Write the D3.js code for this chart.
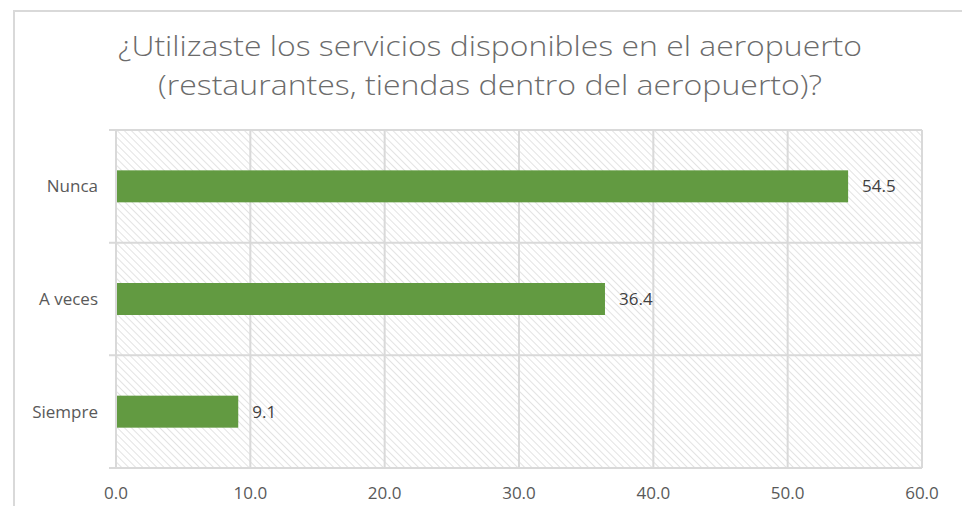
<!DOCTYPE html>
<html>
<head>
<meta charset="utf-8">
<script src="https://cdn.jsdelivr.net/npm/d3@7"></script>
<style>
  html, body { margin: 0; padding: 0; background: #ffffff; }
  svg { display: block; }
</style>
</head>
<body>
<svg id="chart" width="962" height="506"></svg>
<script>
// Survey answers and their percentages
const categories = ["Nunca", "A veces", "Siempre"];
const values = [54.5, 36.4, 9.1];
const xTicks = [0, 10, 20, 30, 40, 50, 60];
const titleLines = [
  "¿Utilizaste los servicios disponibles en el aeropuerto",
  "(restaurantes, tiendas dentro del aeropuerto)?"
];

const svg = d3.select("#chart");
const W = 962, H = 506;
const plot = { left: 116, right: 922, top: 130, bottom: 468 };

const gridColor = "#d9d9d9";
const barColor = "#629a41";
const fontFamily = "'Open Sans', 'DejaVu Sans', sans-serif";

// diagonal hatch fill for the plot area (lines running top-left to bottom-right)
const defs = svg.append("defs");
const pat = defs.append("pattern")
  .attr("id", "hatch")
  .attr("patternUnits", "userSpaceOnUse")
  .attr("width", 5).attr("height", 5)
  .attr("patternTransform", "rotate(-45)");
pat.append("rect").attr("width", 5).attr("height", 5).attr("fill", "#ffffff");
pat.append("line")
  .attr("x1", 0).attr("y1", 0).attr("x2", 0).attr("y2", 5)
  .attr("stroke", "#dcdcdc").attr("stroke-width", 1.6);

// outer chart frame
svg.append("rect")
  .attr("x", 14).attr("y", 11)
  .attr("width", W + 10).attr("height", H + 10)
  .attr("fill", "none")
  .attr("stroke", gridColor).attr("stroke-width", 2);

// title
const title = svg.append("g").attr("fill", "#6b6b6b")
  .attr("font-family", "'Open Sans', sans-serif")
  .attr("font-weight", 300)
  .attr("font-size", 28).attr("text-anchor", "middle");
const titleWidths = [744, 664];
const titleBase = [56, 95];
titleLines.forEach((t, i) => {
  title.append("text")
    .attr("x", 490).attr("y", titleBase[i])
    .attr("textLength", titleWidths[i])
    .attr("lengthAdjust", "spacingAndGlyphs")
    .text(t);
});

const x = d3.scaleLinear().domain([0, 60]).range([plot.left, plot.right]);
const y = d3.scaleBand().domain(categories).range([plot.top, plot.bottom]).paddingInner(0).paddingOuter(0);

// plot background
svg.append("rect")
  .attr("x", plot.left).attr("y", plot.top)
  .attr("width", plot.right - plot.left).attr("height", plot.bottom - plot.top)
  .attr("fill", "url(#hatch)");

// vertical gridlines
svg.append("g")
  .selectAll("line").data(xTicks).join("line")
  .attr("x1", d => x(d)).attr("x2", d => x(d))
  .attr("y1", plot.top).attr("y2", plot.bottom)
  .attr("stroke", gridColor).attr("stroke-width", 2);

// category separators (with outward ticks on the left)
const seps = categories.map(c => y(c)).concat([plot.bottom]);
svg.append("g")
  .selectAll("line").data(seps).join("line")
  .attr("x1", plot.left - 7).attr("x2", plot.right)
  .attr("y1", d => d).attr("y2", d => d)
  .attr("stroke", gridColor).attr("stroke-width", 2);

// bars
const barH = 32;
svg.append("g")
  .selectAll("rect").data(values).join("rect")
  .attr("x", x(0) + 1)
  .attr("y", (d, i) => y(categories[i]) + y.bandwidth() / 2 - barH / 2)
  .attr("width", d => x(d) - x(0) - 1)
  .attr("height", barH)
  .attr("fill", barColor);

// value labels
svg.append("g")
  .attr("font-family", fontFamily).attr("font-size", 17).attr("fill", "#404040")
  .selectAll("text").data(values).join("text")
  .attr("x", d => x(d) + 14)
  .attr("y", (d, i) => y(categories[i]) + y.bandwidth() / 2)
  .attr("dy", "0.36em")
  .text(d => d.toFixed(1));

// category labels
svg.append("g")
  .attr("font-family", fontFamily).attr("font-size", 17).attr("fill", "#595959")
  .attr("text-anchor", "end")
  .selectAll("text").data(categories).join("text")
  .attr("x", plot.left - 18)
  .attr("y", d => y(d) + y.bandwidth() / 2)
  .attr("dy", "0.36em")
  .text(d => d);

// x tick labels
svg.append("g")
  .attr("font-family", fontFamily).attr("font-size", 17).attr("fill", "#595959")
  .attr("text-anchor", "middle")
  .selectAll("text").data(xTicks).join("text")
  .attr("x", d => x(d))
  .attr("y", 499)
  .text(d => d.toFixed(1));
</script>
</body>
</html>
